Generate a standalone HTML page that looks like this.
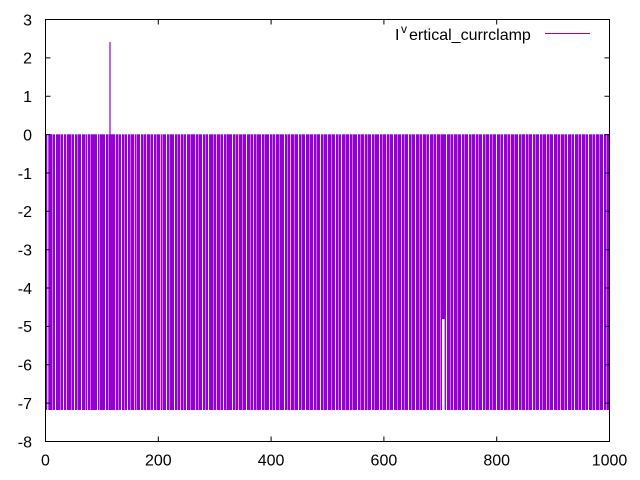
<!DOCTYPE html>
<html><head><meta charset="utf-8"><style>
html,body{margin:0;padding:0;background:#fff;}
svg{display:block;}
text{font-family:"Liberation Sans",Arial,sans-serif;font-size:16px;fill:#000;}
</style></head><body>
<svg width="640" height="480" viewBox="0 0 640 480" xmlns="http://www.w3.org/2000/svg">
<rect width="640" height="480" fill="#fff"/>
<rect x="45.5" y="134.3" width="563.5" height="275.7" fill="#9400d3"/>
<line x1="110" y1="42" x2="110" y2="135" stroke="#9400d3" stroke-width="1.2"/>
<path fill="none" stroke="#fff" stroke-width="1" d="M47.8 134V410M55.5 134V410M63.5 134V410M74.5 134V410M81.5 134V410M97.5 134V410M105.5 134V410M121.5 134V410M127.5 134V410M140.5 134V410M153.5 134V410M166.5 134V410M174.5 134V410M186.5 134V410M202.5 134V410M208.5 134V410M223.5 134V410M232.5 134V410M246.5 134V410M261.5 134V410M269.5 134V410M284.5 134V410M298.5 134V410M305.5 134V410M320.5 134V410M335.5 134V410M341.5 134V410M357.5 134V410M371.5 134V410M379.5 134V410M393.5 134V410M408.5 134V410M415.5 134V410M429.5 134V410M446.5 134V410M461.5 134V410M468.5 134V410M482.5 134V410M496.5 134V410M503.5 134V410M518.5 134V410M532.5 134V410M539.5 134V410M553.5 134V410M567.5 134V410M574.5 134V410M588.5 134V410M603.5 134V410"/>
<path fill="none" stroke="#fff" stroke-width="1" opacity="0.7" d="M66.5 134V410M87.5 134V410M115.5 134V410M134.5 134V410M146.5 134V410M160.5 134V410M180.5 134V410M195.5 134V410M216.5 134V410M238.5 134V410M253.5 134V410M275.5 134V410M290.5 134V410M313.5 134V410M327.5 134V410M349.5 134V410M364.5 134V410M386.5 134V410M401.5 134V410M422.5 134V410M436.5 134V410M453.5 134V410M475.5 134V410M489.5 134V410M510.5 134V410M525.5 134V410M546.5 134V410M560.5 134V410M581.5 134V410M595.5 134V410"/>
<path fill="none" stroke="#fff" stroke-width="1" opacity="0.45" d="M52.5 134V410M60.5 134V410M71.5 134V410M77.5 134V410M85.5 134V410M90.5 134V410M99.5 134V410M108.5 134V410M118.5 134V410M124.5 134V410M130.5 134V410M136.5 134V410M143.5 134V410M150.5 134V410M156.5 134V410M162.5 134V410M169.5 134V410M177.5 134V410M183.5 134V410M190.5 134V410M198.5 134V410M205.5 134V410M213.5 134V410M220.5 134V410M226.5 134V410M235.5 134V410M242.5 134V410M250.5 134V410M256.5 134V410M264.5 134V410M272.5 134V410M279.5 134V410M287.5 134V410M294.5 134V410M301.5 134V410M309.5 134V410M316.5 134V410M323.5 134V410M331.5 134V410M338.5 134V410M345.5 134V410M352.5 134V410M360.5 134V410M367.5 134V410M374.5 134V410M382.5 134V410M389.5 134V410M397.5 134V410M404.5 134V410M411.5 134V410M419.5 134V410M426.5 134V410M433.5 134V410M440.5 134V410M450.5 134V410M457.5 134V410M464.5 134V410M471.5 134V410M478.5 134V410M485.5 134V410M492.5 134V410M500.5 134V410M507.5 134V410M514.5 134V410M521.5 134V410M528.5 134V410M535.5 134V410M542.5 134V410M549.5 134V410M557.5 134V410M564.5 134V410M571.5 134V410M578.5 134V410M585.5 134V410M592.5 134V410M599.5 134V410M606.5 134V410"/>
<rect x="442" y="319" width="2.6" height="91" fill="#fff"/>
<rect x="45.5" y="19.5" width="564" height="422" fill="none" stroke="#000" stroke-width="1"/>
<path fill="none" stroke="#000" stroke-width="1" d="M45.5 19.5h5M609.5 19.5h-5M45.5 57.9h5M609.5 57.9h-5M45.5 96.2h5M609.5 96.2h-5M45.5 134.6h5M609.5 134.6h-5M45.5 173h5M609.5 173h-5M45.5 211.3h5M609.5 211.3h-5M45.5 249.7h5M609.5 249.7h-5M45.5 288h5M609.5 288h-5M45.5 326.4h5M609.5 326.4h-5M45.5 364.8h5M609.5 364.8h-5M45.5 403.1h5M609.5 403.1h-5M158.3 441.5v-5M158.3 19.5v5M271.1 441.5v-5M271.1 19.5v5M383.9 441.5v-5M383.9 19.5v5M496.7 441.5v-5M496.7 19.5v5"/>
<g text-anchor="end">
<text x="32" y="25.3">3</text>
<text x="32" y="63.7">2</text>
<text x="32" y="102">1</text>
<text x="32" y="140.4">0</text>
<text x="32" y="178.8">-1</text>
<text x="32" y="217.1">-2</text>
<text x="32" y="255.5">-3</text>
<text x="32" y="293.8">-4</text>
<text x="32" y="332.2">-5</text>
<text x="32" y="370.6">-6</text>
<text x="32" y="408.9">-7</text>
<text x="32" y="447.3">-8</text>
</g>
<g text-anchor="middle">
<text x="45.5" y="465.5">0</text>
<text x="158.3" y="465.5">200</text>
<text x="271.1" y="465.5">400</text>
<text x="383.9" y="465.5">600</text>
<text x="496.7" y="465.5">800</text>
<text x="609.5" y="465.5">1000</text>
</g>
<text x="395" y="40">I</text>
<text x="401" y="33" style="font-size:12px">v</text>
<text x="409" y="40">ertical_currclamp</text>
<line x1="545" y1="33.5" x2="590" y2="33.5" stroke="#9400d3" stroke-width="1"/>
</svg>
</body></html>
